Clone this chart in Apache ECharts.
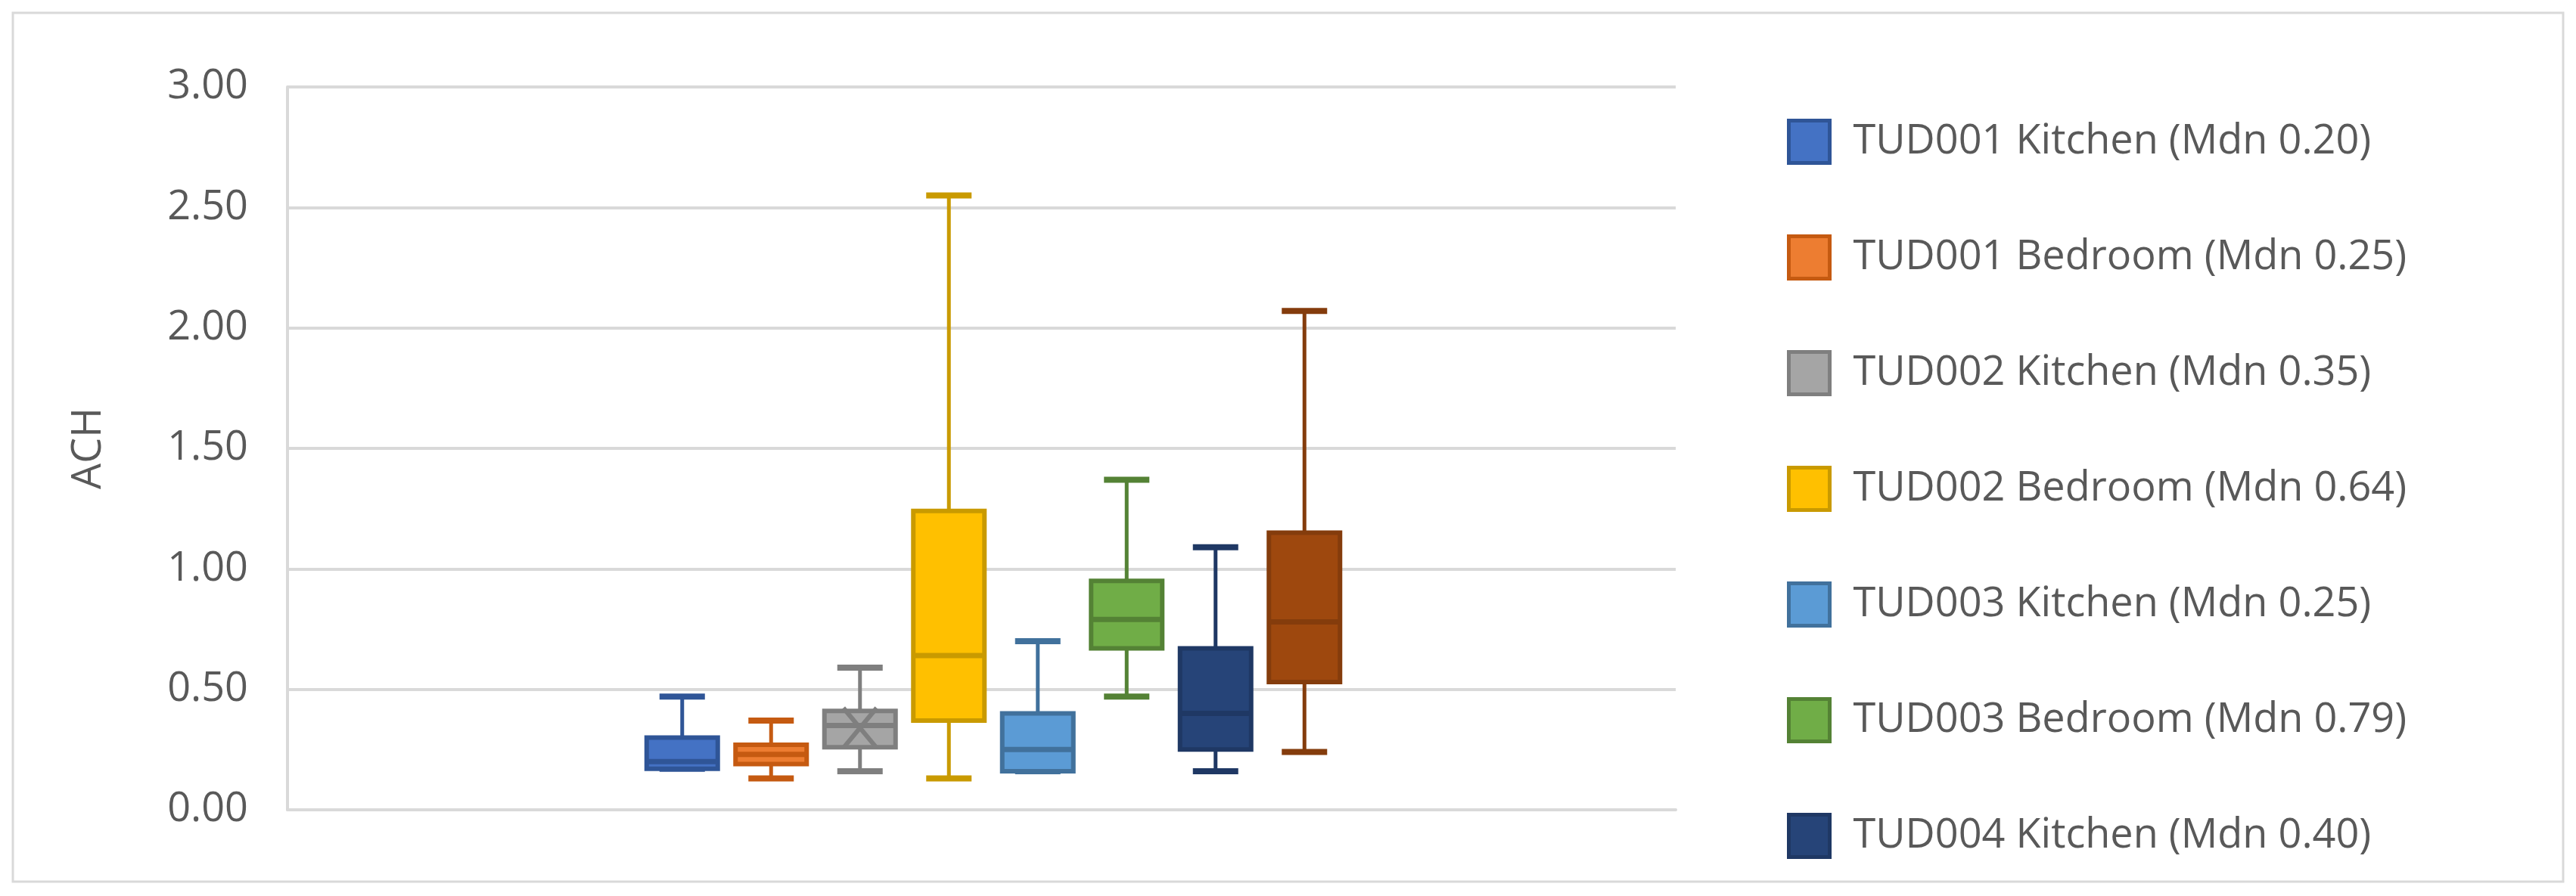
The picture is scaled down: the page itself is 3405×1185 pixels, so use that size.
<!DOCTYPE html>
<html><head><meta charset="utf-8">
<script src="https://cdn.jsdelivr.net/npm/echarts@6/dist/echarts.min.js"></script>
<style>html,body{margin:0;padding:0;background:#fff}#c{width:3405px;height:1185px}</style>
</head><body><div id="c"></div>
<script>
const seriesNames = ['TUD001 Kitchen (Mdn 0.20)','TUD001 Bedroom (Mdn 0.25)','TUD002 Kitchen (Mdn 0.35)','TUD002 Bedroom (Mdn 0.64)','TUD003 Kitchen (Mdn 0.25)','TUD003 Bedroom (Mdn 0.79)','TUD004 Kitchen (Mdn 0.40)','TUD004 Bedroom'];
const legendNames = seriesNames.slice(0,7);
// [min, q1, median, q3, max]
const boxStats = [
  [0.17,0.17,0.20,0.30,0.47],
  [0.13,0.19,0.23,0.27,0.37],
  [0.16,0.26,0.35,0.41,0.59],
  [0.13,0.37,0.64,1.24,2.55],
  [0.16,0.16,0.25,0.40,0.70],
  [0.47,0.67,0.79,0.95,1.37],
  [0.16,0.25,0.40,0.67,1.09],
  [0.24,0.53,0.78,1.15,2.07]
];
const means = [null,null,0.34,null,null,null,null,null];
const fills = ['#4472C4','#ED7D31','#A5A5A5','#FFC000','#5B9BD5','#70AD47','#264478','#9E480E'];
const strokes = ['#2F5597','#C55A11','#7F7F7F','#C99A00','#41719C','#548235','#1F3864','#843C0C'];
const yTicks = [0,0.5,1,1.5,2,2.5,3];
const FONT = 'Open Sans';

const chart = echarts.init(document.getElementById('c'));
const series = seriesNames.map((name,i)=>({
  name, type:'custom', xAxisIndex:1, yAxisIndex:1,
  itemStyle:{color:fills[i], borderColor:strokes[i], borderWidth:5},
  data:[[i].concat(boxStats[i]).concat([means[i]==null?-1:means[i]])],
  renderItem:(params, api)=>{
    const x = api.value(0);
    const p = k=>api.coord([x, api.value(k)]);
    const bw = api.size([1,0])[0]*0.8, hw=bw/2, cw=30;
    const cx = p(1)[0];
    const yMin=p(1)[1], yQ1=p(2)[1], yMed=p(3)[1], yQ3=p(4)[1], yMax=p(5)[1];
    const st={stroke:strokes[i], lineWidth:5};
    const ch=[
      {type:'line',shape:{x1:cx,y1:yMax,x2:cx,y2:yQ3},style:st},
      {type:'line',shape:{x1:cx,y1:yQ1,x2:cx,y2:yMin},style:st},
      {type:'line',shape:{x1:cx-cw,y1:yMax,x2:cx+cw,y2:yMax},style:{stroke:strokes[i],lineWidth:8}},
      {type:'line',shape:{x1:cx-cw,y1:yMin,x2:cx+cw,y2:yMin},style:{stroke:strokes[i],lineWidth:8}},
      {type:'rect',shape:{x:cx-hw,y:yQ3,width:bw,height:yQ1-yQ3},style:{fill:fills[i],stroke:strokes[i],lineWidth:6}},
      {type:'line',shape:{x1:cx-hw,y1:yMed,x2:cx+hw,y2:yMed},style:{stroke:strokes[i],lineWidth:7}}
    ];
    const m = api.value(6);
    if (m>=0){
      const ym=api.coord([x,m])[1], s=22;
      ch.push({type:'polyline',shape:{points:[[cx-s,ym-s*1.2],[cx+s,ym+s*1.2]]},style:{stroke:strokes[i],lineWidth:6,fill:null}});
      ch.push({type:'polyline',shape:{points:[[cx+s,ym-s*1.2],[cx-s,ym+s*1.2]]},style:{stroke:strokes[i],lineWidth:6,fill:null}});
    }
    return {type:'group',children:ch};
  }
}));
const yCommon = {type:'value',min:0,max:3,interval:0.5};
chart.setOption({
  animation:false,
  graphic:[{type:'rect',shape:{x:17,y:17,width:3371,height:1149},style:{fill:null,stroke:'#d9d9d9',lineWidth:3}}],
  grid:[{left:380,top:115,width:1835,height:956},{left:843,top:115,width:940,height:956}],
  xAxis:[
    {gridIndex:0,type:'category',data:[''],axisLine:{lineStyle:{color:'#d9d9d9',width:4}},axisTick:{show:false},axisLabel:{show:false}},
    {gridIndex:1,type:'category',data:seriesNames,show:false}
  ],
  yAxis:[
    Object.assign({gridIndex:0,name:'ACH',nameLocation:'middle',nameGap:235,nameTextStyle:{fontSize:54,color:'#595959',fontFamily:FONT},
      axisLine:{show:true,lineStyle:{color:'#d9d9d9',width:4}},axisTick:{show:false},
      axisLabel:{fontSize:54,color:'#595959',fontFamily:FONT,margin:52,formatter:v=>yTicks.includes(v)?v.toFixed(2):''},
      splitLine:{lineStyle:{color:'#d9d9d9',width:4}}},yCommon),
    Object.assign({gridIndex:1,show:false,splitLine:{show:false}},yCommon)
  ],
  legend:{data:legendNames,orient:'vertical',left:2357,top:152,icon:'rect',itemWidth:54,itemHeight:56,itemGap:92,
    itemStyle:{borderWidth:5},
    textStyle:{fontSize:54,color:'#595959',fontFamily:FONT,padding:[0,0,0,26]}},
  series
});
</script></body></html>
